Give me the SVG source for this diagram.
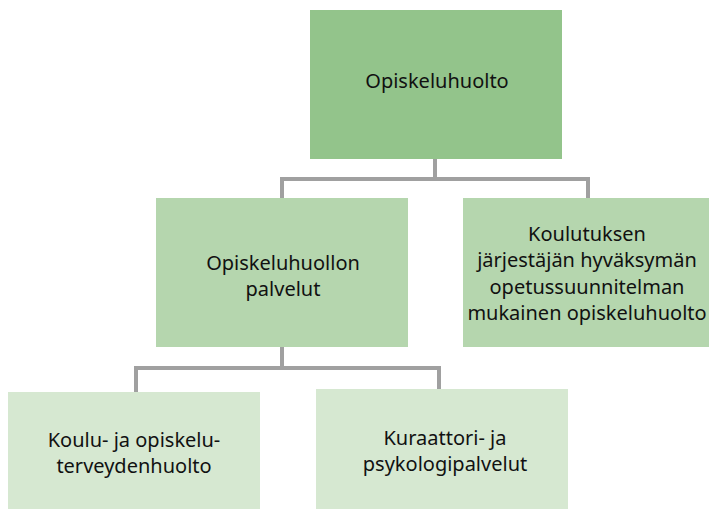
<svg xmlns="http://www.w3.org/2000/svg" width="710" height="509" viewBox="0 0 710 509">
<style>
text{font-family:"Noto Sans","Open Sans","Liberation Sans",sans-serif;font-size:20px;fill:#111;text-anchor:middle}
.c{fill:none;stroke:#a0a0a0;stroke-width:4}
.l1{fill:#93c48b}.l2{fill:#b5d6ae}.l3{fill:#d6e8d1}
</style>
<rect width="710" height="509" fill="#fff"/>
<g id="connectors">
<path class="c" d="M435,159V179M282,179H588M282,177V198M588,177V198"/>
<path class="c" d="M282,347V368M136,368H439M136,366V392M439,366V390"/>
</g>
<g id="n1"><rect class="l1" x="310" y="10" width="252" height="149"/><text x="437" y="88">Opiskeluhuolto</text></g>
<g id="n2"><rect class="l2" x="156" y="198" width="252" height="149"/><text x="283" y="270">Opiskeluhuollon</text><text x="283" y="296">palvelut</text></g>
<g id="n3"><rect class="l2" x="463" y="198" width="246" height="149"/><text x="587" y="241">Koulutuksen</text><text x="587" y="267">järjestäjän hyväksymän</text><text x="587" y="294">opetussuunnitelman</text><text x="587" y="320">mukainen opiskeluhuolto</text></g>
<g id="n4"><rect class="l3" x="8" y="392" width="252" height="117"/><text x="134" y="447">Koulu- ja opiskelu-</text><text x="134" y="473">terveydenhuolto</text></g>
<g id="n5"><rect class="l3" x="316" y="389" width="252" height="120"/><text x="445" y="445">Kuraattori- ja</text><text x="445" y="471">psykologipalvelut</text></g>
</svg>
